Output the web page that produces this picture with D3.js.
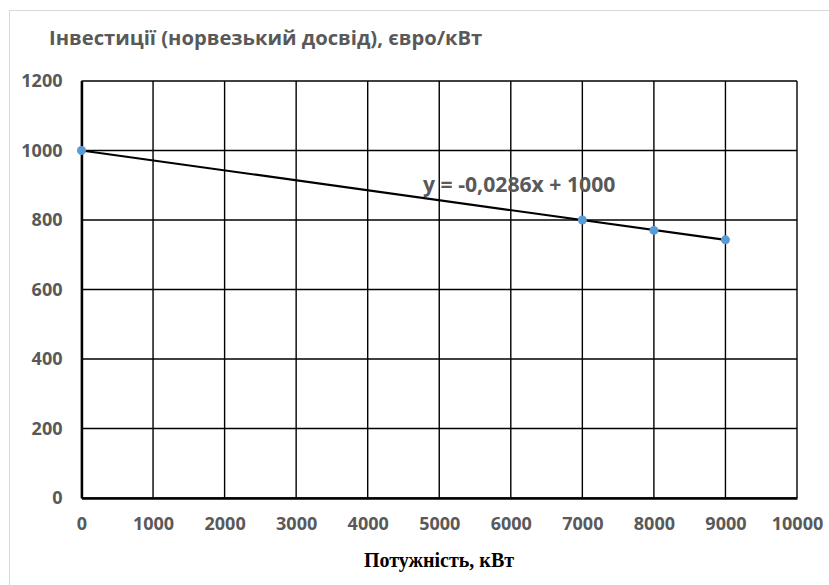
<!DOCTYPE html>
<html>
<head>
<meta charset="utf-8">
<script src="https://cdn.jsdelivr.net/npm/d3@7"></script>
<style>
  body { margin: 0; background: #fff; }
  svg { display: block; }
</style>
</head>
<body>
<svg></svg>
<script>
// data
let powerKw = [0, 7000, 8000, 9000]
let costEur = [1000, 800, 770, 743]

let xTicks = [0, 1000, 2000, 3000, 4000, 5000, 6000, 7000, 8000, 9000, 10000]
let yTicks = [0, 200, 400, 600, 800, 1000, 1200]

// trend line shown on the chart
let slope = -0.0286
let intercept = 1000
let trendFrom = 0
let trendTo = 9000

let titleText = 'Інвестиції (норвезький досвід), євро/кВт'
let xTitleText = 'Потужність, кВт'
let equationText = 'y = -0,0286x + 1000'

// canvas
let width = 829
let height = 585
let plotLeft = 81.5, plotRight = 797, plotTop = 81, plotBottom = 498

let svg = d3.select('svg')
  .attr('width', width)
  .attr('height', height)

// outer chart frame
svg.append('rect')
  .attr('x', 9.5).attr('y', 10.5)
  .attr('width', 840).attr('height', 600)
  .attr('fill', '#fff')
  .attr('stroke', '#d9d9d9')
  .attr('stroke-width', 1)

let xScale = d3.scaleLinear().domain([0, 10000]).range([plotLeft, plotRight])
let yScale = d3.scaleLinear().domain([0, 1200]).range([plotBottom, plotTop])

// grid
svg.append('g')
  .selectAll('line')
  .data(xTicks)
  .enter()
  .append('line')
  .attr('x1', d => xScale(d)).attr('x2', d => xScale(d))
  .attr('y1', plotTop).attr('y2', plotBottom)
  .attr('stroke', '#000')
  .attr('stroke-width', 1.4)

svg.append('g')
  .selectAll('line')
  .data(yTicks)
  .enter()
  .append('line')
  .attr('x1', plotLeft).attr('x2', plotRight)
  .attr('y1', d => yScale(d)).attr('y2', d => yScale(d))
  .attr('stroke', '#000')
  .attr('stroke-width', 1.4)

// axes
let xAxis = d3.axisBottom(xScale).tickValues(xTicks).tickSize(0).tickPadding(19).tickFormat(d3.format('d'))
let yAxis = d3.axisLeft(yScale).tickValues(yTicks).tickSize(0).tickPadding(19).tickFormat(d3.format('d'))

let gx = svg.append('g')
  .attr('transform', 'translate(0,' + plotBottom + ')')
  .call(xAxis)
let gy = svg.append('g')
  .attr('transform', 'translate(' + plotLeft + ',0)')
  .call(yAxis)

gx.select('.domain').attr('stroke', '#000').attr('stroke-width', 2.4)
gy.select('.domain').attr('stroke', '#000').attr('stroke-width', 2.4)

svg.selectAll('.tick text')
  .attr('font-family', 'Open Sans')
  .attr('font-size', 18)
  .attr('font-weight', 700)
  .attr('fill', '#595959')
gx.selectAll('.tick text').attr('dy', '0.71em')

// trend line
svg.append('line')
  .attr('x1', xScale(trendFrom)).attr('y1', yScale(slope * trendFrom + intercept))
  .attr('x2', xScale(trendTo)).attr('y2', yScale(slope * trendTo + intercept))
  .attr('stroke', '#000')
  .attr('stroke-width', 2.2)

// points
svg.append('g')
  .selectAll('circle')
  .data(powerKw)
  .enter()
  .append('circle')
  .attr('cx', d => xScale(d))
  .attr('cy', (d, i) => yScale(costEur[i]))
  .attr('r', 4.5)
  .attr('fill', '#5b9bd5')

// texts
svg.append('text')
  .attr('x', 49).attr('y', 45)
  .attr('font-family', 'Open Sans')
  .attr('font-size', 20.2)
  .attr('font-weight', 700)
  .attr('fill', '#595959')
  .text(titleText)

svg.append('text')
  .attr('x', 423).attr('y', 192)
  .attr('font-family', 'Open Sans')
  .attr('font-size', 21.2)
  .attr('font-weight', 700)
  .attr('fill', '#595959')
  .text(equationText)

svg.append('text')
  .attr('x', 439).attr('y', 567)
  .attr('text-anchor', 'middle')
  .attr('font-family', 'Liberation Serif')
  .attr('font-size', 20)
  .attr('font-weight', 'bold')
  .attr('fill', '#000')
  .text(xTitleText)
</script>
</body>
</html>
